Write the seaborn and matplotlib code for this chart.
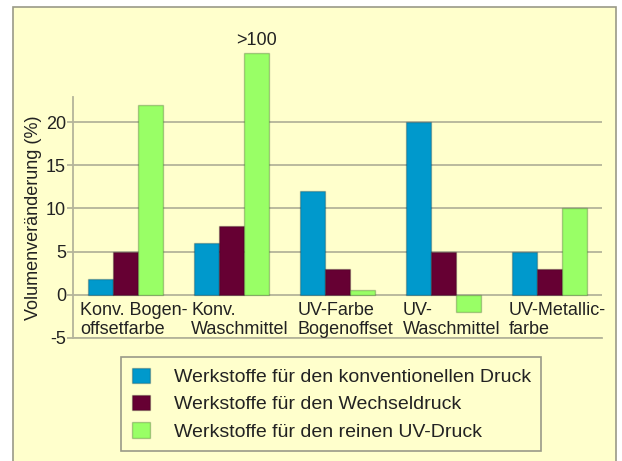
import numpy as np
import pandas as pd
import seaborn as sns
import matplotlib.pyplot as plt
from matplotlib.patches import Rectangle

# data
categories = ["Konv. Bogen-\noffsetfarbe", "Konv.\nWaschmittel", "UV-Farbe\nBogenoffset",
              "UV-\nWaschmittel", "UV-Metallic-\nfarbe"]
series_names = ["Werkstoffe für den konventionellen Druck",
                "Werkstoffe für den Wechseldruck",
                "Werkstoffe für den reinen UV-Druck"]
konventionell = [1.8, 6, 12, 20, 5]
wechsel = [5, 8, 3, 5, 3]
uv = [22, 28, 0.5, -2, 10]
uv_labels = ["", ">100", "", "", ""]
colors = ["#0099cc", "#660033", "#99ff66"]

bg = "#ffffcc"
gridc = "#b4b49a"

df = pd.DataFrame({
    "kat": categories * 3,
    "serie": np.repeat(series_names, len(categories)),
    "wert": konventionell + wechsel + uv,
})

sns.set_theme(style="white")
plt.rcParams['font.family'] = ['Liberation Sans', 'DejaVu Sans']
plt.rcParams['axes.unicode_minus'] = False

fig = plt.figure(figsize=(6.22, 4.61), dpi=100)
fig.patch.set_facecolor("white")
fig.patches.append(Rectangle((13/622, -0.05), (616-13)/622, 1.05 - 7/461,
                             transform=fig.transFigure, facecolor=bg,
                             edgecolor="#9a9a88", lw=1.2, zorder=-1))

ax = fig.add_axes([73/622, 1-338/461, (602-73)/622, (338-97)/461])
ax.set_zorder(2)
ax.set_facecolor(bg)

sns.barplot(data=df, x="kat", y="wert", hue="serie", palette=colors,
            width=0.71, saturation=1, edgecolor=(0, 0, 0, 0.22), linewidth=1,
            ax=ax, legend=True, zorder=3)

for p in ax.patches:
    p.set_clip_on(False)

for t in ax.bar_label(ax.containers[2], labels=uv_labels, padding=3,
                      fontsize=13, color="#222222"):
    t.set_annotation_clip(False)
    t.set_clip_on(False)

ax.set_ylim(-5, 22.9)
ax.set_xlim(-0.5, 4.5)
ax.set_yticks([-5, 0, 5, 10, 15, 20])
ax.yaxis.grid(True, color=gridc, lw=1.3, zorder=0)
ax.tick_params(axis="y", length=4, width=1.3, color=gridc, labelsize=13,
               labelcolor="#222222", pad=1, left=True)
ax.tick_params(axis="x", bottom=False, labelbottom=False)
for s in ["top", "right"]:
    ax.spines[s].set_visible(False)
ax.spines["left"].set_color(gridc)
ax.spines["left"].set_linewidth(1.3)
ax.spines["bottom"].set_color(gridc)
ax.spines["bottom"].set_linewidth(1.3)
ax.set_xlabel("")
ax.set_ylabel("Volumenveränderung (%)", fontsize=13, color="#222222", labelpad=3)

for i, lab in enumerate(categories):
    ax.annotate(lab, xy=(i, 0), xytext=(6, -5.5), textcoords="offset points",
                ha="center", va="top", multialignment="left",
                fontsize=13, color="#222222", linespacing=1.1)

h, l = ax.get_legend_handles_labels()
ax.get_legend().remove()
leg = fig.legend(h, l, loc="upper left", bbox_to_anchor=(121/622, 1-357/461),
                 frameon=True, fancybox=False, facecolor=bg, edgecolor="#9a9a88",
                 framealpha=1, fontsize=14, handlelength=0.95, handleheight=0.85,
                 handletextpad=1.2, labelspacing=0.45, borderpad=0.55,
                 borderaxespad=0)
leg.get_frame().set_linewidth(1.2)
for t in leg.get_texts():
    t.set_color("#222222")

fig.savefig("out.png", dpi=100, facecolor=fig.get_facecolor())
